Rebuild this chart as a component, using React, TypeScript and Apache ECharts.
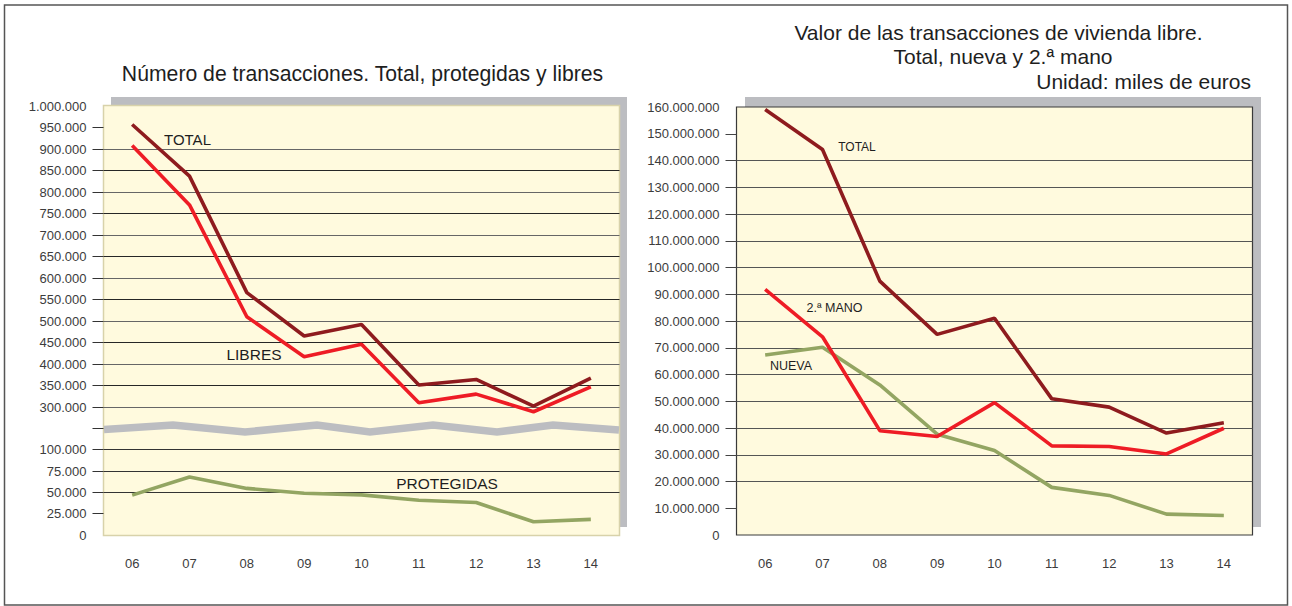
import React, { useEffect, useRef } from "react";
import * as echarts from "echarts";

const categories = ["06", "07", "08", "09", "10", "11", "12", "13", "14"];

// Left chart: número de transacciones
const transTotal = [957000, 837000, 566000, 465000, 492000, 351000, 364000, 302000, 367000];
const transLibres = [908000, 770000, 510000, 417000, 446000, 310000, 330000, 289000, 347000];
const transProtegidas = [46700, 68000, 54600, 49000, 47000, 40800, 38000, 15500, 18300];

// Right chart: valor (miles de euros)
const valorTotal = [159100000, 144100000, 94900000, 75000000, 81000000, 50900000, 47800000, 38100000, 42000000];
const valorSegunda = [91800000, 74100000, 39000000, 36800000, 49500000, 33300000, 33100000, 30300000, 39900000];
const valorNueva = [67300000, 70200000, 56100000, 37700000, 31600000, 17800000, 14800000, 7800000, 7300000];

// Tick positions
const upperTicks = [300000, 350000, 400000, 450000, 500000, 550000, 600000, 650000, 700000, 750000, 800000, 850000, 900000, 950000];
const lowerTicks = [25000, 50000, 75000, 100000, 125000];
const rightTicks = [10000000, 20000000, 30000000, 40000000, 50000000, 60000000, 70000000, 80000000, 90000000, 100000000, 110000000, 120000000, 130000000, 140000000, 150000000];

const FONT = "'Liberation Sans', Arial, Helvetica, sans-serif";
const C_TOTAL = "#8e1b1e";
const C_RED = "#ee1c25";
const C_GREEN = "#93a562";
const YELLOW = "#fffade";
const GREY = "#bcbdc1";

const fmt = (v: number) => String(Math.round(v)).replace(/\B(?=(\d{3})+(?!\d))/g, ".");

export default function App() {
  const ref = useRef<HTMLDivElement>(null);
  useEffect(() => {
    if (!ref.current) return;
    const chart = echarts.init(ref.current, null, { renderer: "svg" });
    const axisLabel = { fontSize: 13, color: "#3c3c3c", fontFamily: FONT };
    const lineSeries = (name: string, data: number[], color: string, xi: number, yi: number) => ({
      name,
      type: "line",
      xAxisIndex: xi,
      yAxisIndex: yi,
      data,
      symbol: "none",
      clip: false,
      lineStyle: { color, width: 3.6 },
      z: 5,
    });
    const text = (t: string, x: number, y: number, size: number, align = "center") => ({
      type: "text",
      x,
      y,
      z: 30,
      style: {
        text: t,
        fontSize: size,
        fontFamily: FONT,
        fill: "#1e1e1e",
        textAlign: align,
        textVerticalAlign: "middle",
      },
    });
    const option: any = {
      animation: false,
      backgroundColor: "#ffffff",
      grid: [
        { left: 103.5, top: 106, width: 516, height: 301 },
        { left: 103.5, top: 407, width: 516, height: 128 },
        {
          left: 736.5,
          top: 107,
          width: 516,
          height: 428,
          show: true,
          backgroundColor: YELLOW,
          borderColor: "#3a3a3a",
          borderWidth: 1.2,
        },
      ],
      xAxis: [
        { gridIndex: 0, type: "category", data: categories, show: false },
        {
          gridIndex: 1,
          type: "category",
          data: categories,
          axisLine: { show: false },
          axisTick: { show: false },
          axisLabel: { ...axisLabel, margin: 22 },
        },
        {
          gridIndex: 2,
          type: "category",
          data: categories,
          axisLine: { show: false },
          axisTick: { show: false },
          axisLabel: { ...axisLabel, margin: 22 },
        },
      ],
      yAxis: [
        {
          gridIndex: 0,
          type: "value",
          min: 300000,
          max: 1000000,
          interval: 50000,
          axisLine: { show: false },
          axisTick: { show: true, length: 11, customValues: upperTicks, lineStyle: { color: "#333" } },
          axisLabel: { ...axisLabel, margin: 17, formatter: (v: number) => fmt(v) },
          splitLine: { show: true, showMaxLine: false, lineStyle: { color: ["#666666", "#262626"], width: 1 } },
        },
        {
          gridIndex: 1,
          type: "value",
          min: 0,
          max: 150000,
          interval: 25000,
          axisLine: { show: false },
          axisTick: { show: true, length: 11, customValues: lowerTicks, lineStyle: { color: "#333" } },
          axisLabel: { ...axisLabel, margin: 17, formatter: (v: number) => (v > 100000 ? "" : fmt(v)) },
          splitLine: { show: true, showMaxLine: false, showMinLine: false, lineStyle: { color: "#333", width: 1 } },
        },
        {
          gridIndex: 2,
          type: "value",
          min: 0,
          max: 160000000,
          interval: 10000000,
          axisLine: { show: false },
          axisTick: { show: true, length: 11, customValues: rightTicks, lineStyle: { color: "#444" } },
          axisLabel: { ...axisLabel, margin: 17, formatter: (v: number) => fmt(v) },
          splitLine: { show: true, showMaxLine: false, showMinLine: false, lineStyle: { color: "#555", width: 1 } },
        },
      ],
      series: [
        lineSeries("LIBRES", transLibres, C_RED, 0, 0),
        lineSeries("TOTAL", transTotal, C_TOTAL, 0, 0),
        lineSeries("PROTEGIDAS", transProtegidas, C_GREEN, 1, 1),
        lineSeries("NUEVA", valorNueva, C_GREEN, 2, 2),
        lineSeries("2.ª MANO", valorSegunda, C_RED, 2, 2),
        lineSeries("TOTAL ", valorTotal, C_TOTAL, 2, 2),
      ],
      graphic: [
        { type: "rect", z: -10, shape: { x: 111, y: 97, width: 516, height: 430 }, style: { fill: GREY } },
        {
          type: "rect",
          z: -9,
          shape: { x: 103.5, y: 105.5, width: 516, height: 430 },
          style: { fill: YELLOW, stroke: "#d8d2aa", lineWidth: 1.5 },
        },
        { type: "rect", z: -10, shape: { x: 745, y: 97, width: 516, height: 430 }, style: { fill: GREY } },
        {
          type: "polyline",
          z: 10,
          shape: {
            points: [
              [104, 429.5],
              [173, 425],
              [245, 432],
              [317, 425],
              [370, 432],
              [433, 425],
              [497, 432],
              [553, 425],
              [619, 430],
            ],
          },
          style: { stroke: GREY, lineWidth: 7.5, fill: null },
        },
        {
          type: "rect",
          z: 40,
          shape: { x: 4.5, y: 5, width: 1283, height: 600 },
          style: { fill: null, stroke: "#555", lineWidth: 1.5 },
        },
        text("Número de transacciones. Total, protegidas y libres", 362.5, 73, 21.2),
        text("Valor de las transacciones de vivienda libre.", 998.5, 32, 21),
        text("Total, nueva y 2.ª mano", 1003, 56, 21),
        text("Unidad: miles de euros", 1251, 81, 21, "right"),
        text("TOTAL", 187.5, 139, 15),
        text("LIBRES", 254, 354, 15.5),
        text("PROTEGIDAS", 447, 483, 15.5),
        text("TOTAL", 857, 147, 12),
        text("2.ª MANO", 834.5, 308, 12.5),
        text("NUEVA", 791, 366, 12.5),
      ],
    };
    chart.setOption(option);
    return () => chart.dispose();
  }, []);
  return (
    <div
      ref={ref}
      style={{ position: "fixed", left: 0, top: 0, width: 1292, height: 606, background: "#fff" }}
    />
  );
}
